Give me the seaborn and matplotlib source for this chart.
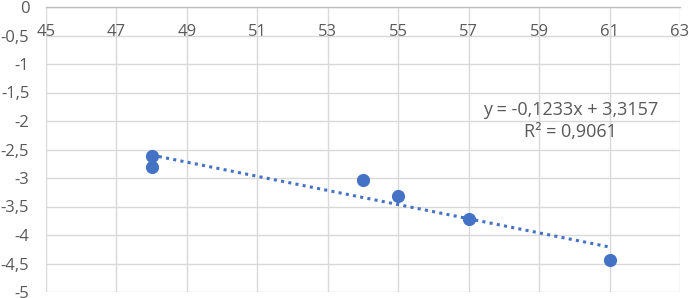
import matplotlib
matplotlib.use("Agg")
import numpy as np
import pandas as pd
import matplotlib.pyplot as plt
import seaborn as sns

# values
x_vals = [48, 48, 54, 55, 57, 61]
y_vals = [-2.62, -2.81, -3.03, -3.32, -3.72, -4.43]
x_ticks = [45, 47, 49, 51, 53, 55, 57, 59, 61, 63]
y_ticks = [0, -0.5, -1, -1.5, -2, -2.5, -3, -3.5, -4, -4.5, -5]
y_labels = ["0", "-0,5", "-1", "-1,5", "-2", "-2,5", "-3", "-3,5", "-4", "-4,5", "-5"]
eq_text = "y = -0,1233x + 3,3157\nR² = 0,9061"

df = pd.DataFrame({"x": x_vals, "y": y_vals})

sns.set_style("white")
plt.rcParams["font.family"] = ["Open Sans", "DejaVu Sans"]

blue = "#4472C4"
grid = "#D9D9D9"
txt = "#595959"

fig = plt.figure(figsize=(6.89, 2.98), dpi=100)
ax = fig.add_axes([46 / 689, 1 - 292 / 298, (680 - 46) / 689, (292 - 7) / 298])

sns.regplot(data=df, x="x", y="y", ax=ax, ci=None, color=blue,
            scatter_kws={"s": 90, "zorder": 3, "linewidths": 0, "alpha": 1},
            line_kws={"linestyle": (0, (1, 1.4)), "linewidth": 2.2, "zorder": 2})

ax.set_xlim(45, 63)
ax.set_ylim(-5, 0)
ax.set_xticks(x_ticks)
ax.set_yticks(y_ticks)
ax.set_yticklabels(y_labels)
ax.grid(True, color=grid, linewidth=1)
ax.set_axisbelow(True)
for s in ["left", "right", "bottom"]:
    ax.spines[s].set_visible(False)
ax.spines["top"].set_color("#BFBFBF")
ax.spines["top"].set_linewidth(1)

ax.tick_params(axis="x", length=0, labeltop=True, labelbottom=False, pad=-24,
               labelsize=12, labelcolor=txt)
ax.tick_params(axis="y", length=0, pad=12, labelsize=12, labelcolor=txt)
ax.set_xlabel("")
ax.set_ylabel("")

ax.text(59.9, -2.0, eq_text, ha="center", va="center", fontsize=13,
        color=txt, linespacing=1.3)

fig.savefig("out.png", dpi=100)
